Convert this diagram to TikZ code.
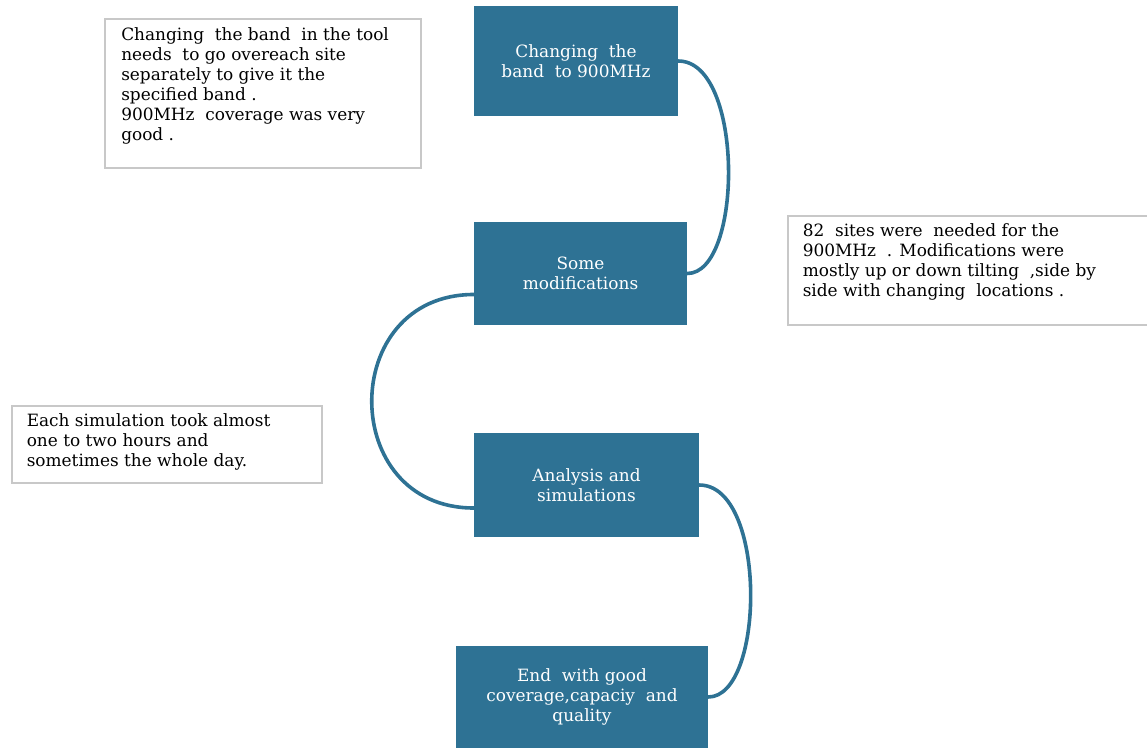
\documentclass[tikz,border=0pt]{standalone}
\usepackage{fontspec}
\setmainfont{DejaVu Serif}
\usetikzlibrary{calc}
\definecolor{boxblue}{RGB}{46,114,148}
\definecolor{notegray}{RGB}{200,200,200}
\tikzset{
  stepbox/.style={draw=none, fill=boxblue, text=white, align=center, inner sep=0pt,
    font=\fontsize{12.7}{15}\selectfont},
  notebox/.style={draw=notegray, line width=1.5pt, fill=white, inner sep=0pt, anchor=north west},
  notetext/.style={anchor=north west, align=left, inner sep=0pt, text=black,
    font=\fontsize{12.7}{15}\selectfont},
  conn/.style={draw=boxblue, line width=2.7pt, line cap=round}
}
\begin{document}
\begin{tikzpicture}[x=0.75pt,y=-0.75pt]
\useasboundingbox (0,0) rectangle (1147,747);
% step boxes
\node[stepbox, minimum width=204*0.75pt, minimum height=110*0.75pt] (b1) at (576,61) {Changing\ \ the\\band\ \ to 900MHz};
\node[stepbox, minimum width=213*0.75pt, minimum height=103*0.75pt] (b2) at (580.5,273.5) {Some\\modifications};
\node[stepbox, minimum width=225*0.75pt, minimum height=104*0.75pt] (b3) at (586.5,485) {Analysis and\\simulations};
\node[stepbox, minimum width=252*0.75pt, minimum height=102*0.75pt] (b4) at (582,697) {End\ \ with good\\coverage,capaciy\ \ and\\quality};
% notes
\node[notebox, minimum width=316*0.75pt, minimum height=149*0.75pt] (nA) at (104,18) {};
\node[notetext] (tA) at ($(nA.north west)+(17,9)$) {Changing\ \ the band\ \ in the tool\\needs\ \ to go overeach site\\separately to give it the\\specified band .\\900MHz\ \ coverage was very\\good .};
\node[notebox, minimum width=360*0.75pt, minimum height=109*0.75pt] (nB) at (786.5,215) {};
\node[notetext] (tB) at ($(nB.north west)+(16,8)$) {82\ \ sites were\ \ needed for the\\900MHz\ \ . Modifications were\\mostly up or down tilting\ \ ,side by\\side with changing\ \ locations .};
\node[notebox, minimum width=310*0.75pt, minimum height=77*0.75pt] (nC) at (10.5,405) {};
\node[notetext] (tC) at ($(nC.north west)+(16,8)$) {Each simulation took almost\\one to two hours and\\sometimes the whole day.};
% connectors
\draw[conn] (b1.east) .. controls ($(b1.east)+(66,0)$) and ($(b2.east)+(56,0)$) .. (b2.east);
\coordinate (s2) at ($(b2.west)+(0,21)$);
\coordinate (e3) at ($(b3.west)+(0,23)$);
\draw[conn] (s2) .. controls ($(s2)+(-136,0)$) and ($(e3)+(-136,0)$) .. (e3);
\draw[conn] (b3.east) .. controls ($(b3.east)+(68,0)$) and ($(b4.east)+(57,0)$) .. (b4.east);
\end{tikzpicture}
\end{document}
